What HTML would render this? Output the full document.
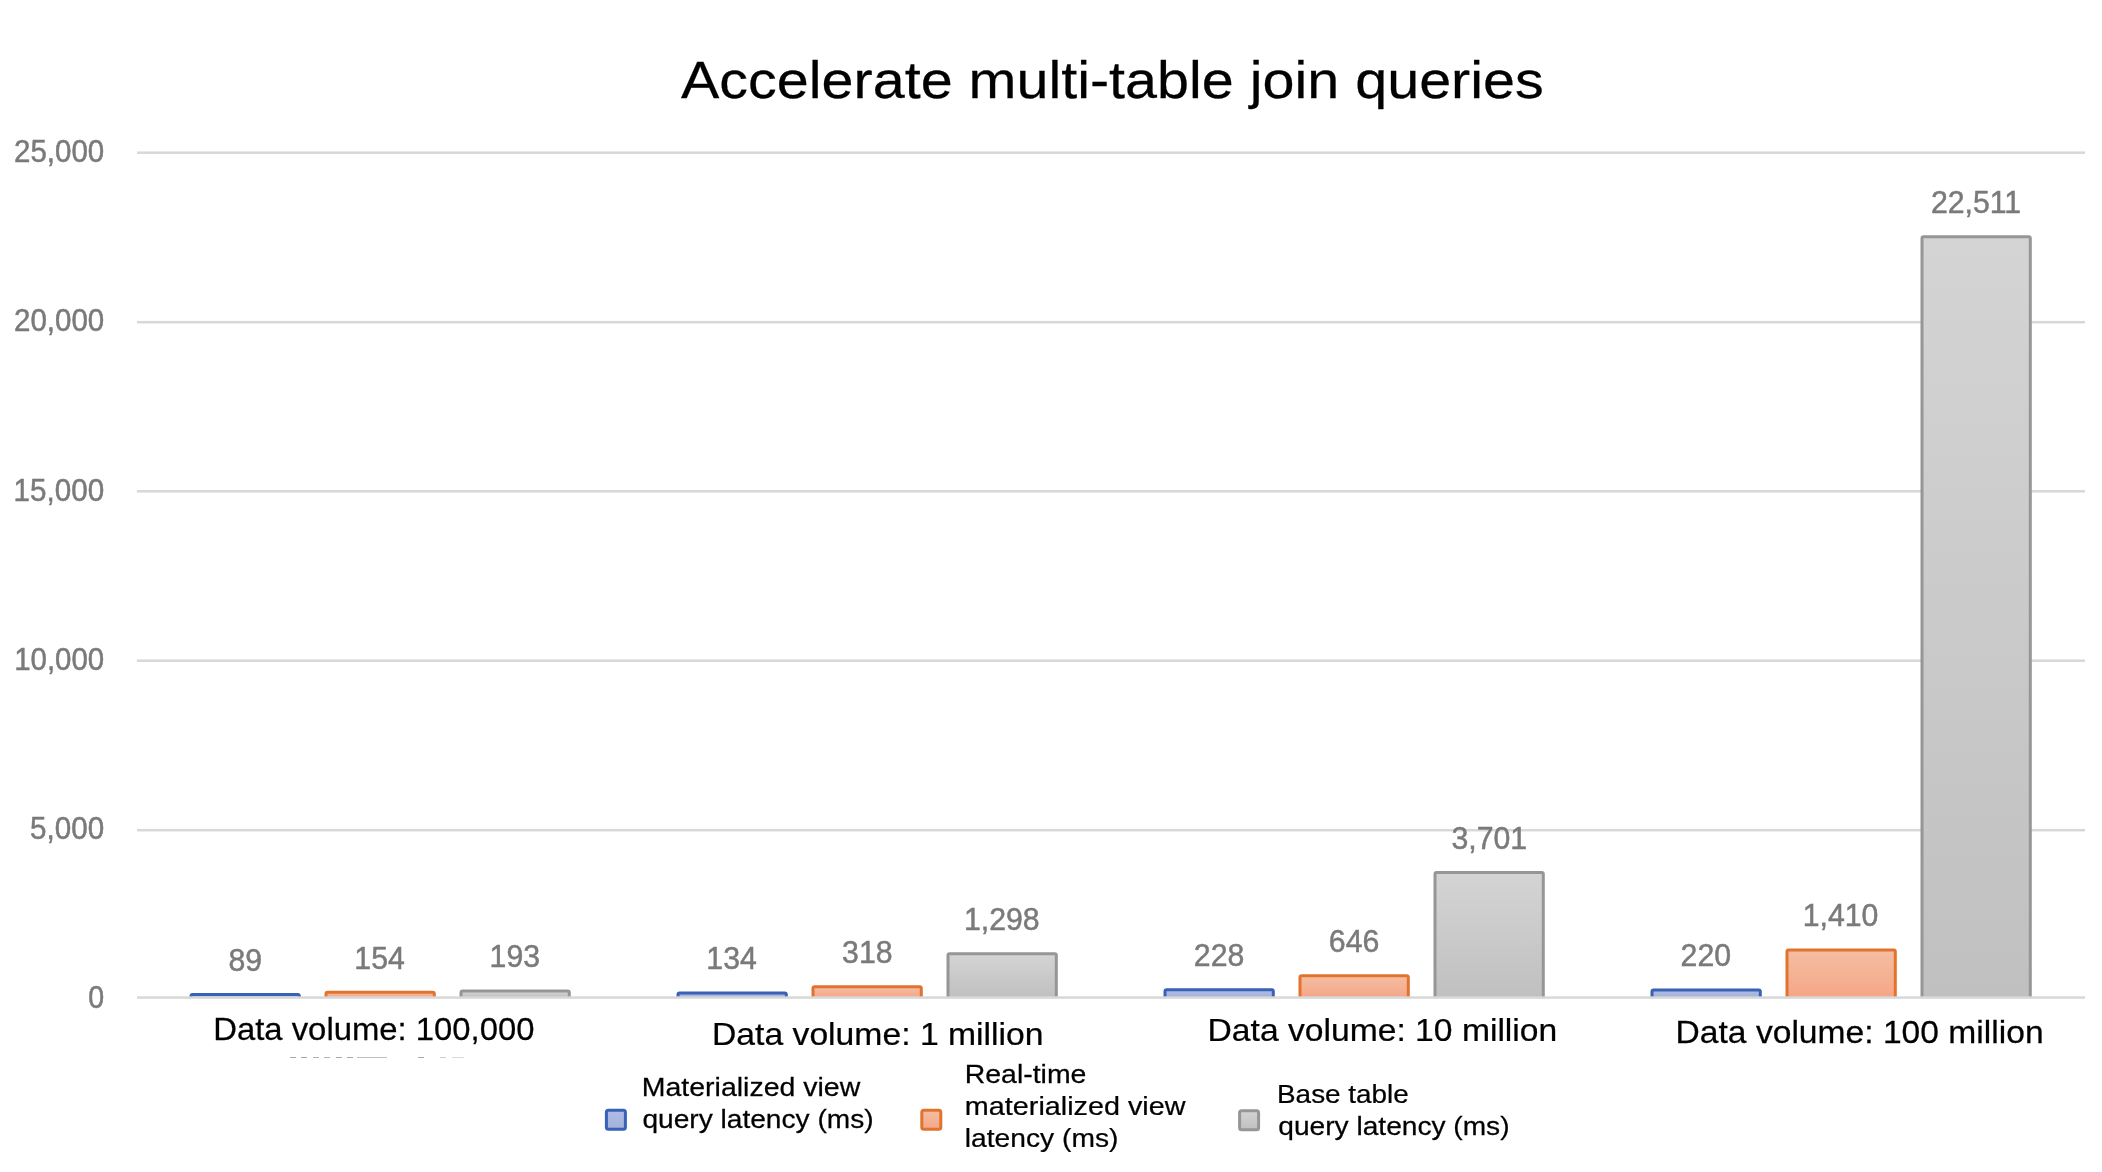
<!DOCTYPE html>
<html><head><meta charset="utf-8"><style>
html,body{margin:0;padding:0;background:#fff;}
svg{display:block;}
text{font-family:"Liberation Sans",sans-serif;}
.t{opacity:0.999;}
</style></head><body>
<svg width="2102" height="1172" viewBox="0 0 2102 1172">
<defs><linearGradient id="g0" x1="0" y1="0" x2="0" y2="1"><stop offset="0" stop-color="#b0bde6"/><stop offset="1" stop-color="#a3b0da"/></linearGradient><linearGradient id="g1" x1="0" y1="0" x2="0" y2="1"><stop offset="0" stop-color="#f4bea3"/><stop offset="1" stop-color="#f5a686"/></linearGradient><linearGradient id="g2" x1="0" y1="0" x2="0" y2="1"><stop offset="0" stop-color="#d4d4d4"/><stop offset="1" stop-color="#c0c0c0"/></linearGradient></defs>
<rect width="2102" height="1172" fill="#fff"/>
<rect x="137" y="151.45" width="1948" height="2.5" fill="#d8d8d8"/>
<rect x="137" y="320.95" width="1948" height="2.5" fill="#d8d8d8"/>
<rect x="137" y="490.05" width="1948" height="2.5" fill="#d8d8d8"/>
<rect x="137" y="659.45" width="1948" height="2.5" fill="#d8d8d8"/>
<rect x="137" y="828.95" width="1948" height="2.5" fill="#d8d8d8"/>
<path d="M191.00,997.55 V996.05 Q191.00,994.54 192.50,994.54 H297.80 Q299.30,994.54 299.30,996.05 V997.55" fill="url(#g0)" stroke="#3862b4" stroke-width="3.0" stroke-linejoin="round"/>
<path d="M326.00,997.55 V993.95 Q326.00,992.35 327.60,992.35 H432.70 Q434.30,992.35 434.30,993.95 V997.55" fill="url(#g1)" stroke="#e2732f" stroke-width="3.0" stroke-linejoin="round"/>
<path d="M461.00,997.55 V992.63 Q461.00,991.03 462.60,991.03 H567.70 Q569.30,991.03 569.30,992.63 V997.55" fill="url(#g2)" stroke="#969696" stroke-width="3.0" stroke-linejoin="round"/>
<path d="M678.00,997.55 V994.62 Q678.00,993.02 679.60,993.02 H784.70 Q786.30,993.02 786.30,994.62 V997.55" fill="url(#g0)" stroke="#3862b4" stroke-width="3.0" stroke-linejoin="round"/>
<path d="M813.00,997.55 V988.40 Q813.00,986.80 814.60,986.80 H919.70 Q921.30,986.80 921.30,988.40 V997.55" fill="url(#g1)" stroke="#e2732f" stroke-width="3.0" stroke-linejoin="round"/>
<path d="M948.00,997.55 V955.29 Q948.00,953.69 949.60,953.69 H1054.70 Q1056.30,953.69 1056.30,955.29 V997.55" fill="url(#g2)" stroke="#969696" stroke-width="3.0" stroke-linejoin="round"/>
<path d="M1165.00,997.55 V991.44 Q1165.00,989.84 1166.60,989.84 H1271.70 Q1273.30,989.84 1273.30,991.44 V997.55" fill="url(#g0)" stroke="#3862b4" stroke-width="3.0" stroke-linejoin="round"/>
<path d="M1300.00,997.55 V977.32 Q1300.00,975.72 1301.60,975.72 H1406.70 Q1408.30,975.72 1408.30,977.32 V997.55" fill="url(#g1)" stroke="#e2732f" stroke-width="3.0" stroke-linejoin="round"/>
<path d="M1435.00,997.55 V874.08 Q1435.00,872.48 1436.60,872.48 H1541.70 Q1543.30,872.48 1543.30,874.08 V997.55" fill="url(#g2)" stroke="#969696" stroke-width="3.0" stroke-linejoin="round"/>
<path d="M1652.00,997.55 V991.72 Q1652.00,990.12 1653.60,990.12 H1758.70 Q1760.30,990.12 1760.30,991.72 V997.55" fill="url(#g0)" stroke="#3862b4" stroke-width="3.0" stroke-linejoin="round"/>
<path d="M1787.00,997.55 V951.50 Q1787.00,949.90 1788.60,949.90 H1893.70 Q1895.30,949.90 1895.30,951.50 V997.55" fill="url(#g1)" stroke="#e2732f" stroke-width="3.0" stroke-linejoin="round"/>
<path d="M1922.00,997.55 V238.41 Q1922.00,236.81 1923.60,236.81 H2028.70 Q2030.30,236.81 2030.30,238.41 V997.55" fill="url(#g2)" stroke="#969696" stroke-width="3.0" stroke-linejoin="round"/>
<rect x="137" y="996.30" width="1948" height="2.5" fill="#d8d8d8"/>
<rect x="606.40" y="1110.30" width="19" height="19" rx="2" fill="url(#g0)" stroke="#3862b4" stroke-width="3"/>
<rect x="921.80" y="1110.30" width="19" height="19" rx="2" fill="url(#g1)" stroke="#e2732f" stroke-width="3"/>
<rect x="1239.60" y="1110.70" width="19" height="19" rx="2" fill="url(#g2)" stroke="#969696" stroke-width="3"/>
<rect x="290" y="1057" width="6" height="1" fill="#000" opacity="0.35"/>
<rect x="301" y="1057" width="6" height="1" fill="#000" opacity="0.35"/>
<rect x="313" y="1057" width="6" height="1" fill="#000" opacity="0.3"/>
<rect x="324" y="1057" width="6" height="1" fill="#000" opacity="0.3"/>
<rect x="336" y="1057" width="6" height="1" fill="#000" opacity="0.35"/>
<rect x="347" y="1057" width="6" height="1" fill="#000" opacity="0.35"/>
<rect x="357" y="1057" width="30" height="1" fill="#000" opacity="0.25"/>
<rect x="418" y="1057" width="6" height="1" fill="#000" opacity="0.35"/>
<rect x="440" y="1057" width="6" height="1" fill="#000" opacity="0.2"/>
<rect x="452" y="1057" width="12" height="1" fill="#000" opacity="0.15"/>
<g class="t" style="will-change:opacity"><text transform="translate(681.00 97.90) scale(1.0986 1)" font-size="52.34" fill="#000000" stroke="#000000" stroke-width="0.25">Accelerate multi-table join queries</text>
<text transform="translate(14.02 161.80) scale(0.9557 1)" font-size="30.86" fill="#7a7a7a" stroke="#7a7a7a" stroke-width="0.5">25,000</text>
<text transform="translate(14.02 331.10) scale(0.9557 1)" font-size="30.86" fill="#7a7a7a" stroke="#7a7a7a" stroke-width="0.5">20,000</text>
<text transform="translate(13.55 500.50) scale(0.9608 1)" font-size="30.86" fill="#7a7a7a" stroke="#7a7a7a" stroke-width="0.5">15,000</text>
<text transform="translate(14.16 670.00) scale(0.9542 1)" font-size="30.86" fill="#7a7a7a" stroke="#7a7a7a" stroke-width="0.5">10,000</text>
<text transform="translate(30.07 839.40) scale(0.9603 1)" font-size="30.86" fill="#7a7a7a" stroke="#7a7a7a" stroke-width="0.5">5,000</text>
<text transform="translate(88.31 1008.30) scale(0.9267 1)" font-size="30.86" fill="#7a7a7a" stroke="#7a7a7a" stroke-width="0.5">0</text>
<text transform="translate(228.47 970.84) scale(0.9800 1)" font-size="30.86" fill="#7a7a7a" stroke="#7a7a7a" stroke-width="0.5">89</text>
<text transform="translate(354.35 968.65) scale(0.9800 1)" font-size="30.86" fill="#7a7a7a" stroke="#7a7a7a" stroke-width="0.5">154</text>
<text transform="translate(489.59 967.33) scale(0.9800 1)" font-size="30.86" fill="#7a7a7a" stroke="#7a7a7a" stroke-width="0.5">193</text>
<text transform="translate(706.35 969.32) scale(0.9800 1)" font-size="30.86" fill="#7a7a7a" stroke="#7a7a7a" stroke-width="0.5">134</text>
<text transform="translate(842.06 963.10) scale(0.9800 1)" font-size="30.86" fill="#7a7a7a" stroke="#7a7a7a" stroke-width="0.5">318</text>
<text transform="translate(963.97 929.99) scale(0.9800 1)" font-size="30.86" fill="#7a7a7a" stroke="#7a7a7a" stroke-width="0.5">1,298</text>
<text transform="translate(1193.82 966.14) scale(0.9800 1)" font-size="30.86" fill="#7a7a7a" stroke="#7a7a7a" stroke-width="0.5">228</text>
<text transform="translate(1328.82 952.02) scale(0.9800 1)" font-size="30.86" fill="#7a7a7a" stroke="#7a7a7a" stroke-width="0.5">646</text>
<text transform="translate(1451.45 848.78) scale(0.9800 1)" font-size="30.86" fill="#7a7a7a" stroke="#7a7a7a" stroke-width="0.5">3,701</text>
<text transform="translate(1680.59 966.42) scale(0.9800 1)" font-size="30.86" fill="#7a7a7a" stroke="#7a7a7a" stroke-width="0.5">220</text>
<text transform="translate(1802.74 926.20) scale(0.9800 1)" font-size="30.86" fill="#7a7a7a" stroke="#7a7a7a" stroke-width="0.5">1,410</text>
<text transform="translate(1930.92 213.11) scale(0.9800 1)" font-size="30.86" fill="#7a7a7a" stroke="#7a7a7a" stroke-width="0.5">22,511</text>
<text transform="translate(213.23 1040.30) scale(1.0498 1)" font-size="31.29" fill="#000000" stroke="#000000" stroke-width="0.25">Data volume: 100,000</text>
<text transform="translate(711.97 1045.10) scale(1.0774 1)" font-size="31.29" fill="#000000" stroke="#000000" stroke-width="0.25">Data volume: 1 million</text>
<text transform="translate(1207.57 1040.70) scale(1.0754 1)" font-size="31.29" fill="#000000" stroke="#000000" stroke-width="0.25">Data volume: 10 million</text>
<text transform="translate(1675.57 1042.60) scale(1.0742 1)" font-size="31.29" fill="#000000" stroke="#000000" stroke-width="0.25">Data volume: 100 million</text>
<text transform="translate(641.77 1095.60) scale(1.1128 1)" font-size="25.60" fill="#000000" stroke="#000000" stroke-width="0.25">Materialized view</text>
<text transform="translate(642.42 1127.60) scale(1.0987 1)" font-size="25.60" fill="#000000" stroke="#000000" stroke-width="0.25">query latency (ms)</text>
<text transform="translate(964.78 1083.00) scale(1.1108 1)" font-size="25.60" fill="#000000" stroke="#000000" stroke-width="0.25">Real-time</text>
<text transform="translate(964.80 1115.00) scale(1.1248 1)" font-size="25.60" fill="#000000" stroke="#000000" stroke-width="0.25">materialized view</text>
<text transform="translate(964.84 1146.70) scale(1.1020 1)" font-size="25.60" fill="#000000" stroke="#000000" stroke-width="0.25">latency (ms)</text>
<text transform="translate(1277.02 1102.80) scale(1.0896 1)" font-size="25.60" fill="#000000" stroke="#000000" stroke-width="0.25">Base table</text>
<text transform="translate(1278.32 1134.90) scale(1.0992 1)" font-size="25.60" fill="#000000" stroke="#000000" stroke-width="0.25">query latency (ms)</text></g>
</svg>
</body></html>
